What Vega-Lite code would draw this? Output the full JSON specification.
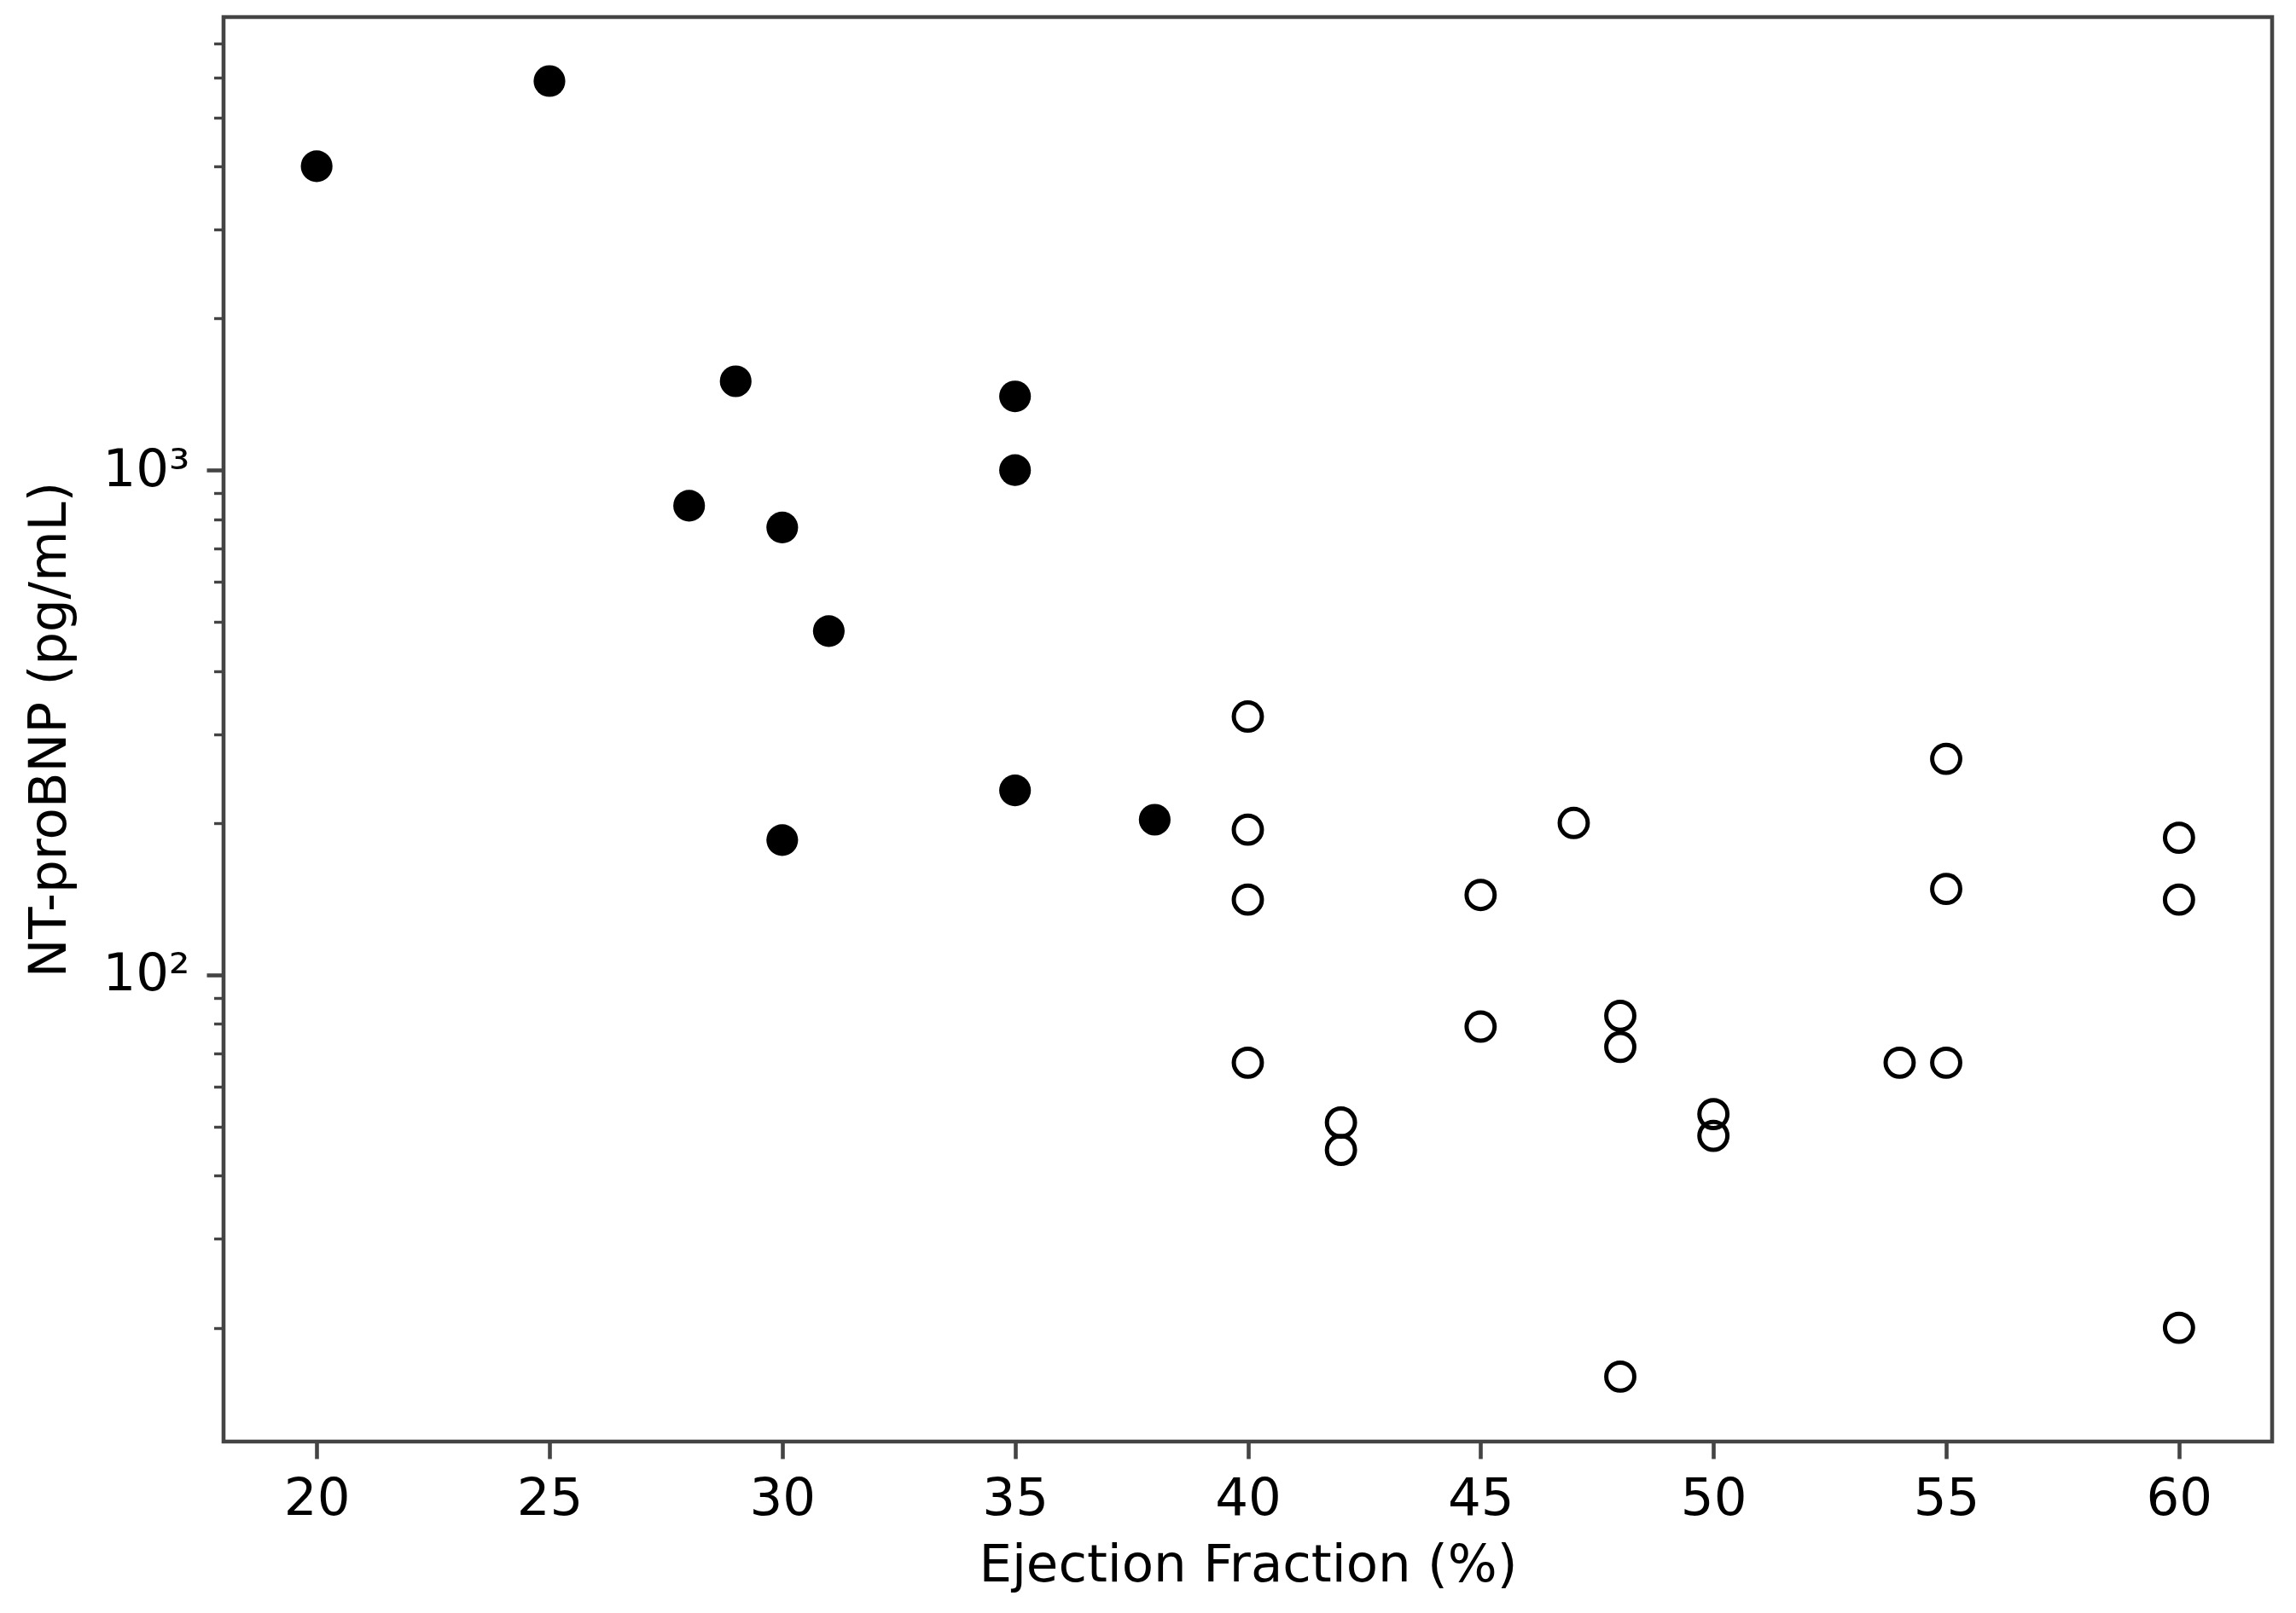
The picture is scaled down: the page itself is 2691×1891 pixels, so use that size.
{
  "$schema": "https://vega.github.io/schema/vega-lite/v6.json",
  "description": "NT-proBNP against ejection fraction, log scale",
  "autosize": {"type": "none"},
  "padding": {"left": 262, "top": 20, "right": 28, "bottom": 201},
  "width": 2401,
  "height": 1670,
  "background": "white",
  "data": {
    "values": [
      {"ef": 20, "bnp": 4000, "group": "reduced"},
      {"ef": 25, "bnp": 5900, "group": "reduced"},
      {"ef": 28, "bnp": 850, "group": "reduced"},
      {"ef": 29, "bnp": 1500, "group": "reduced"},
      {"ef": 30, "bnp": 770, "group": "reduced"},
      {"ef": 30, "bnp": 185, "group": "reduced"},
      {"ef": 31, "bnp": 480, "group": "reduced"},
      {"ef": 35, "bnp": 1400, "group": "reduced"},
      {"ef": 35, "bnp": 1000, "group": "reduced"},
      {"ef": 35, "bnp": 232, "group": "reduced"},
      {"ef": 38, "bnp": 203, "group": "reduced"},
      {"ef": 40, "bnp": 325, "group": "preserved"},
      {"ef": 40, "bnp": 194, "group": "preserved"},
      {"ef": 40, "bnp": 141, "group": "preserved"},
      {"ef": 40, "bnp": 67, "group": "preserved"},
      {"ef": 42, "bnp": 51, "group": "preserved"},
      {"ef": 42, "bnp": 45, "group": "preserved"},
      {"ef": 45, "bnp": 144, "group": "preserved"},
      {"ef": 45, "bnp": 79, "group": "preserved"},
      {"ef": 47, "bnp": 200, "group": "preserved"},
      {"ef": 48, "bnp": 83, "group": "preserved"},
      {"ef": 48, "bnp": 72, "group": "preserved"},
      {"ef": 48, "bnp": 16, "group": "preserved"},
      {"ef": 50, "bnp": 53, "group": "preserved"},
      {"ef": 50, "bnp": 48, "group": "preserved"},
      {"ef": 54, "bnp": 67, "group": "preserved"},
      {"ef": 55, "bnp": 268, "group": "preserved"},
      {"ef": 55, "bnp": 148, "group": "preserved"},
      {"ef": 55, "bnp": 67, "group": "preserved"},
      {"ef": 60, "bnp": 187, "group": "preserved"},
      {"ef": 60, "bnp": 141, "group": "preserved"},
      {"ef": 60, "bnp": 20, "group": "preserved"}
    ]
  },
  "layer": [
    {
      "transform": [{"filter": "datum.group === 'reduced'"}],
      "mark": {"type": "point", "shape": "circle", "filled": true, "color": "black", "size": 1380, "opacity": 1},
      "encoding": {
        "x": {
          "field": "ef",
          "type": "quantitative",
          "scale": {"domain": [18, 62], "nice": false, "zero": false},
          "axis": {
            "title": "Ejection Fraction (%)",
            "values": [20, 25, 30, 35, 40, 45, 50, 55, 60],
            "grid": false,
            "domain": false,
            "tickSize": 20,
            "tickWidth": 4.6,
            "tickColor": "#444",
            "labelPadding": 17,
            "titlePadding": 18
          }
        },
        "y": {
          "field": "bnp",
          "type": "quantitative",
          "scale": {"type": "log", "domain": [11.9, 7900], "nice": false},
          "axis": {
            "title": "NT-proBNP (pg/mL)",
            "values": [100, 1000],
            "labelExpr": "datum.value === 1000 ? '10³' : '10²'",
            "grid": false,
            "domain": false,
            "tickSize": 20,
            "tickWidth": 4.6,
            "tickColor": "#444",
            "labelPadding": 20,
            "titlePadding": 30
          }
        }
      }
    },
    {
      "transform": [{"filter": "datum.group === 'preserved'"}],
      "mark": {"type": "point", "shape": "circle", "filled": false, "stroke": "black", "strokeWidth": 5, "size": 1080, "opacity": 1},
      "encoding": {
        "x": {"field": "ef", "type": "quantitative"},
        "y": {
          "field": "bnp",
          "type": "quantitative",
          "scale": {"type": "log", "domain": [11.9, 7900], "nice": false},
          "axis": {
            "orient": "left",
            "title": null,
            "labels": false,
            "grid": false,
            "domain": false,
            "values": [20, 30, 40, 50, 60, 70, 80, 90, 200, 300, 400, 500, 600, 700, 800, 900, 2000, 3000, 4000, 5000, 6000, 7000],
            "tickSize": 11.5,
            "tickWidth": 3.4,
            "tickColor": "#444"
          }
        }
      }
    }
  ],
  "resolve": {"axis": {"y": "independent"}},
  "config": {
    "view": {"stroke": "#444", "strokeWidth": 4.6},
    "axis": {
      "labelFont": "DejaVu Sans",
      "titleFont": "DejaVu Sans",
      "labelFontSize": 61,
      "titleFontSize": 61,
      "titleFontWeight": "normal",
      "labelColor": "black",
      "titleColor": "black"
    }
  }
}
